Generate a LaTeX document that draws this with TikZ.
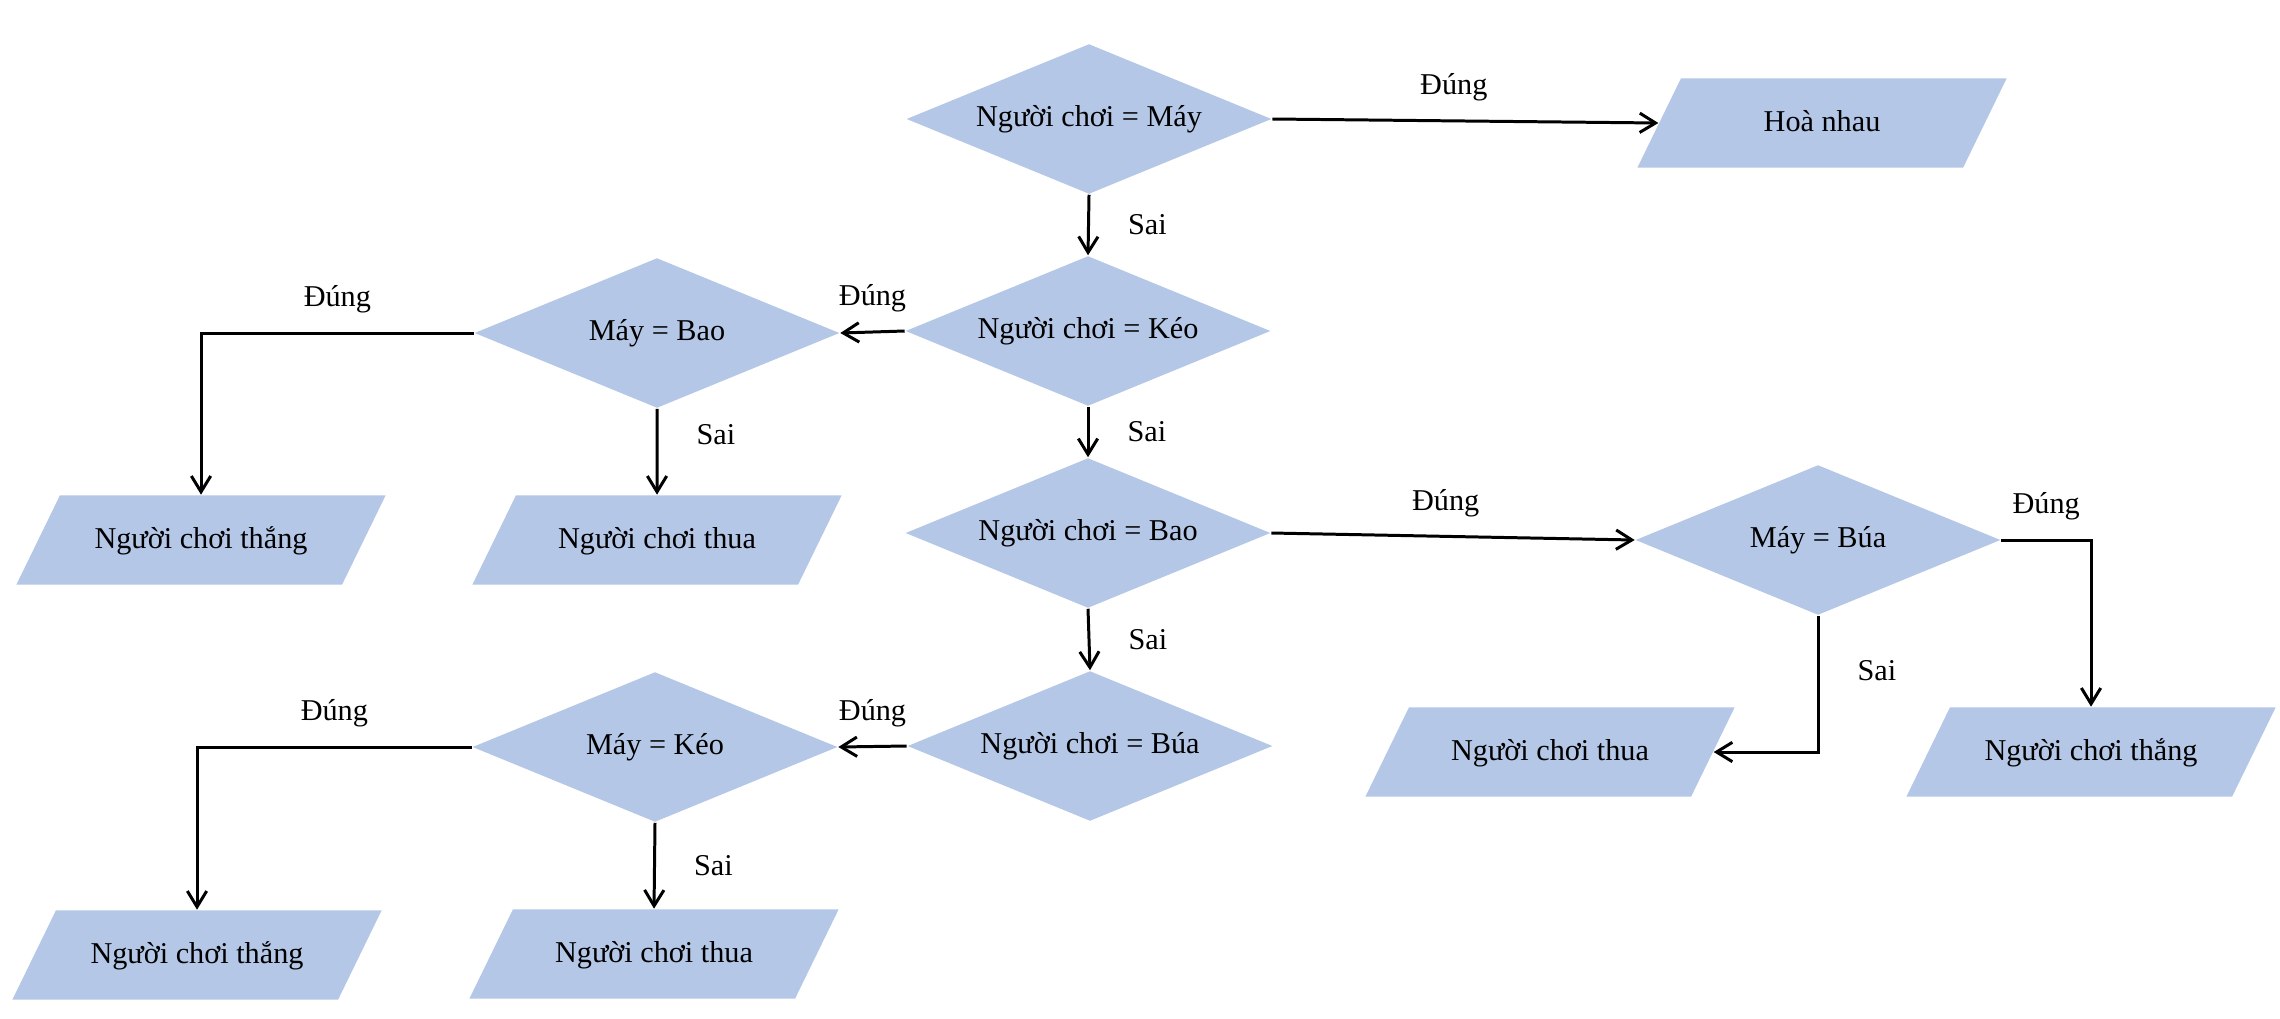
\documentclass[tikz,border=0pt]{standalone}
\usepackage{fontspec}
\setmainfont{Liberation Serif}
\usetikzlibrary{arrows.meta,shapes.geometric}
\definecolor{boxblue}{RGB}{180,199,231}
\begin{document}
\begin{tikzpicture}[x=0.01cm,y=-0.01cm,
    font=\fontsize{8.6}{10}\selectfont,
    cond/.style={diamond,fill=boxblue,aspect=2.4,minimum width=3.65cm,minimum height=1.5cm,inner sep=0pt},
    io/.style={trapezium,trapezium left angle=64,trapezium right angle=116,trapezium stretches body,
      fill=boxblue,minimum width=3.69cm,text height=0.75em,text depth=0.25em,inner xsep=0pt,inner ysep=0.27cm},
    flow/.style={line width=0.85pt},
    arr/.style={flow,-{Straight Barb[length=4.5pt,width=5.5pt]}},
    lbl/.style={inner sep=0pt}]
     \useasboundingbox (0,0) rectangle (2280,1018);
     % main column
     \node[cond] (q1) at (1089,119) {Người chơi = Máy};
     \node[cond] (q2) at (1088,331) {Người chơi = Kéo};
     \node[cond] (q3) at (1088,533) {Người chơi = Bao};
     \node[cond] (q4) at (1090,746) {Người chơi = Búa};
     \node[io] (hoa) at (1822,123) {Hoà nhau};
     % machine checks
     \node[cond] (mBao) at (657,333) {Máy = Bao};
     \node[cond] (mKeo) at (655,747) {Máy = Kéo};
     \node[cond] (mBua) at (1818,540) {Máy = Búa};
     % results
     \node[io] (win1) at (201,540) {Người chơi thắng};
     \node[io] (lose1) at (657,540) {Người chơi thua};
     \node[io] (win2) at (197,955) {Người chơi thắng};
     \node[io] (lose2) at (654,954) {Người chơi thua};
     \node[io] (lose3) at (1550,752) {Người chơi thua};
     \node[io] (win3) at (2091,752) {Người chơi thắng};
     % arrows
     \draw[arr] (q1.east) -- node[lbl,above=0.18cm,pos=0.47] {Đúng} (hoa.west);
     \draw[arr] (q1.south) -- node[lbl,right=0.38cm] {Sai} (q2.north);
     \draw[arr] (q2.south) -- node[lbl,right=0.38cm] {Sai} (q3.north);
     \draw[arr] (q3.south) -- node[lbl,right=0.38cm] {Sai} (q4.north);
     \draw[arr] (q2.west) -- node[lbl,above=0.18cm] {Đúng} (mBao.east);
     \draw[arr] (q4.west) -- node[lbl,above=0.18cm] {Đúng} (mKeo.east);
     \draw[arr] (q3.east) -- node[lbl,above=0.18cm,pos=0.48] {Đúng} (mBua.west);
     \draw[arr] (mBao.west) -| node[lbl,above=0.18cm,pos=0.25] {Đúng} (win1.north);
     \draw[arr] (mBao.south) -- node[lbl,right=0.38cm,pos=0.3] {Sai} (lose1.north);
     \draw[arr] (mKeo.west) -| node[lbl,above=0.18cm,pos=0.25] {Đúng} (win2.north);
     \draw[arr] (mKeo.south) -- node[lbl,right=0.38cm] {Sai} (lose2.north);
     \draw[arr] (mBua.east) -| node[lbl,above=0.18cm,pos=0.25] {Đúng} (win3.north);
     \draw[arr] (mBua.south) |- node[lbl,right=0.38cm,pos=0.2] {Sai} (lose3.east);
    \end{tikzpicture}
\end{document}
